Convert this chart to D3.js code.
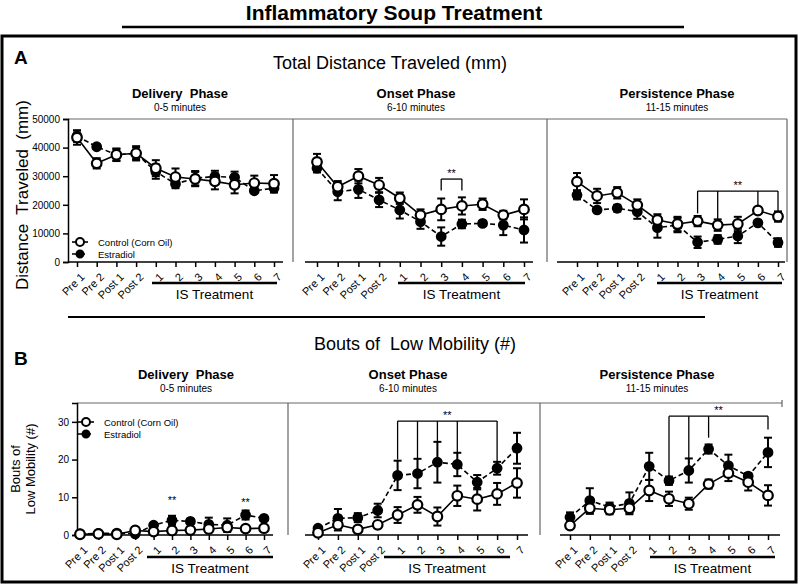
<!DOCTYPE html>
<html>
<head>
<meta charset="utf-8">
<script src="https://cdn.jsdelivr.net/npm/d3@7"></script>
<style>
  body { margin: 0; background: #fff; }
  text { font-family: "Liberation Sans", Arial, sans-serif; fill: #000; }
</style>
</head>
<body>
<svg id="chart" width="800" height="585"></svg>
<script>
const categories = ["Pre 1", "Pre 2", "Post 1", "Post 2", "1", "2", "3", "4", "5", "6", "7"];
const phaseNames = ["Delivery  Phase", "Onset Phase", "Persistence Phase"];
const phaseTimes = ["0-5 minutes", "6-10 minutes", "11-15 minutes"];
const seriesNames = ["Control (Corn Oil)", "Estradiol"];

const distTicks = [0, 10000, 20000, 30000, 40000, 50000];
const boutTicks = [0, 10, 20, 30];

// A: total distance traveled (mm), mean and SEM
const distDeliveryControl = [43500, 34500, 37500, 38000, 32800, 29700, 29000, 28200, 27000, 27600, 27400];
const distDeliveryControlErr = [2500, 1800, 2200, 2500, 2800, 3000, 2500, 2800, 3000, 2600, 3000];
const distDeliveryEstradiol = [44000, 40300, 37500, 38000, 31600, 27300, 29300, 29900, 29600, 24900, 25800];
const distDeliveryEstradiolErr = [2000, 800, 2000, 2000, 2500, 1500, 2500, 2000, 2000, 800, 1500];

const distOnsetControl = [35000, 26300, 30000, 26900, 22300, 16400, 18400, 19600, 20200, 16400, 18400];
const distOnsetControlErr = [2800, 2000, 2500, 2500, 2000, 2000, 3800, 3000, 2000, 1500, 3500];
const distOnsetEstradiol = [32800, 24600, 25400, 21700, 18200, 14100, 8900, 13300, 13500, 12900, 11200];
const distOnsetEstradiolErr = [1500, 3000, 3000, 2500, 3000, 2500, 3200, 1500, 800, 3500, 4400];

const distPersistControl = [28100, 23100, 24200, 19900, 14700, 13300, 14300, 12900, 13300, 18000, 15900];
const distPersistControlErr = [3000, 2500, 2000, 2000, 2000, 2500, 1800, 2000, 2500, 1000, 1800];
const distPersistEstradiol = [23400, 18200, 18800, 17600, 12000, 12900, 6900, 7900, 9100, 13700, 6800];
const distPersistEstradiolErr = [1500, 800, 1200, 2500, 3500, 2500, 2000, 1500, 2500, 800, 1500];

// B: bouts of low mobility (#), mean and SEM
const boutDeliveryControl = [0.2, 0.3, 0.2, 1.2, 0.9, 1.2, 1.3, 1.6, 2.0, 1.7, 1.8];
const boutDeliveryControlErr = [0.2, 0.2, 0.2, 0.5, 0.5, 0.5, 0.5, 0.6, 0.8, 0.5, 0.5];
const boutDeliveryEstradiol = [0.3, 0.4, 0.5, 0.3, 2.6, 3.9, 3.6, 2.8, 2.6, 5.3, 4.4];
const boutDeliveryEstradiolErr = [0.2, 0.3, 0.5, 0.3, 0.5, 1.2, 0.6, 1.8, 1.8, 1.2, 0.6];

const boutOnsetControl = [0.6, 2.7, 1.5, 2.7, 5.3, 8.0, 4.9, 10.4, 9.5, 10.9, 13.8];
const boutOnsetControlErr = [0.4, 1.5, 0.8, 0.8, 2.1, 2.1, 2.4, 2.7, 3.0, 2.9, 3.9];
const boutOnsetEstradiol = [1.8, 4.4, 4.6, 6.5, 15.8, 16.3, 19.3, 18.7, 14.0, 17.7, 23.0];
const boutOnsetEstradiolErr = [0.5, 2.5, 1.2, 1.8, 3.9, 3.9, 5.4, 3.1, 1.9, 1.7, 4.1];

const boutPersistControl = [2.5, 7.1, 6.7, 7.1, 11.8, 9.6, 8.3, 13.5, 16.4, 14.0, 10.5];
const boutPersistControlErr = [0.8, 1.5, 1.2, 1.2, 2.8, 1.9, 1.6, 1.2, 2.1, 2.2, 2.7];
const boutPersistEstradiol = [4.7, 9.1, 7.4, 8.4, 18.2, 14.4, 17.1, 22.8, 18.4, 15.6, 21.9];
const boutPersistEstradiolErr = [1.3, 3.3, 1.2, 2.9, 3.6, 1.1, 3.2, 1.2, 2.9, 0.8, 3.9];

// significance brackets: top value and the legs (category, lower end)
const distOnsetBracket = {top: 29000, legs: [["3", 25000], ["4", 25000]]};
const distPersistBracket = {top: 24800, legs: [["3", 17000], ["4", 15000], ["6", 19200], ["7", 17600]]};
const boutOnsetBracket = {top: 30.2, legs: [["1", 20], ["2", 20.3], ["3", 24.9], ["4", 22], ["6", 19.5]]};
const boutPersistBracket = {top: 31.5, legs: [["2", 15.5], ["3", 19.1], ["4", 25.8], ["7", 28]]};
const boutDeliveryStars = [["2", 8.9], ["6", 8.5]];

const svg = d3.select('#chart');

// outer frame and title
svg.append('rect')
  .attr('x', 2).attr('y', 36).attr('width', 794).attr('height', 546)
  .attr('fill', 'none').attr('stroke', '#000').attr('stroke-width', 3);

svg.append('text')
  .attr('x', 394).attr('y', 20)
  .attr('text-anchor', 'middle')
  .style('font-weight', 'bold').style('font-size', '21px')
  .text('Inflammatory Soup Treatment');

svg.append('line')
  .attr('x1', 122).attr('x2', 684).attr('y1', 27).attr('y2', 27)
  .attr('stroke', '#000').attr('stroke-width', 2.5);

// divider between A and B
svg.append('line')
  .attr('x1', 68).attr('x2', 705).attr('y1', 317).attr('y2', 317)
  .attr('stroke', '#000').attr('stroke-width', 2);

const rows = [
  {
    letter: 'A', letterY: 64, title: 'Total Distance Traveled (mm)', titleX: 390, titleY: 69,
    phaseY: 98, timeY: 111, phaseX: [180, 416, 677],
    top: 119, bottom: 262, max: 50000, ticks: distTicks, yAxisX: 68,
    seps: [293, 547, 787], fullRight: true, barY: 283, textY: 299,
    panels: [
      {x0: 77, x1: 274, axis: [68, 283], bar: [152, 277],
       c: distDeliveryControl, ce: distDeliveryControlErr, e: distDeliveryEstradiol, ee: distDeliveryEstradiolErr},
      {x0: 317, x1: 524, axis: [305, 533], bar: [398, 525], bracket: distOnsetBracket,
       c: distOnsetControl, ce: distOnsetControlErr, e: distOnsetEstradiol, ee: distOnsetEstradiolErr},
      {x0: 577, x1: 778, axis: [557, 785], bar: [657, 782], bracket: distPersistBracket,
       c: distPersistControl, ce: distPersistControlErr, e: distPersistEstradiol, ee: distPersistEstradiolErr}
    ],
    legend: {x: 80, y: 242}
  },
  {
    letter: 'B', letterY: 365, title: 'Bouts of  Low Mobility (#)', titleX: 415, titleY: 350,
    phaseY: 379, timeY: 392, phaseX: [186, 408, 657],
    top: 403, bottom: 535, max: 35, ticks: boutTicks, yAxisX: 77,
    seps: [288, 540, 782], fullRight: false, barY: 557, textY: 573,
    panels: [
      {x0: 80, x1: 264, axis: [77, 273], bar: [147, 273], stars: boutDeliveryStars,
       c: boutDeliveryControl, ce: boutDeliveryControlErr, e: boutDeliveryEstradiol, ee: boutDeliveryEstradiolErr},
      {x0: 318, x1: 517, axis: [305, 528], bar: [384, 510], bracket: boutOnsetBracket,
       c: boutOnsetControl, ce: boutOnsetControlErr, e: boutOnsetEstradiol, ee: boutOnsetEstradiolErr},
      {x0: 570, x1: 768, axis: [560, 780], bar: [650, 775], bracket: boutPersistBracket,
       c: boutPersistControl, ce: boutPersistControlErr, e: boutPersistEstradiol, ee: boutPersistEstradiolErr}
    ],
    legend: {x: 86, y: 422}
  }
];

rows.forEach(row => {
  const y = d3.scaleLinear().domain([0, row.max]).range([row.bottom, row.top]);

  svg.append('text')
    .attr('x', 14).attr('y', row.letterY)
    .style('font-weight', 'bold').style('font-size', '19px')
    .text(row.letter);

  svg.append('text')
    .attr('x', row.titleX).attr('y', row.titleY)
    .attr('text-anchor', 'middle').style('font-size', '18px')
    .style('white-space', 'pre')
    .text(row.title);

  phaseNames.forEach((p, i) => {
    svg.append('text')
      .attr('x', row.phaseX[i]).attr('y', row.phaseY)
      .attr('text-anchor', 'middle')
      .style('font-weight', 'bold').style('font-size', '13px')
      .style('white-space', 'pre')
      .text(p);
    svg.append('text')
      .attr('x', row.phaseX[i]).attr('y', row.timeY)
      .attr('text-anchor', 'middle').style('font-size', '10px')
      .text(phaseTimes[i]);
  });

  // grey frame of the plotting area
  svg.append('line')
    .attr('x1', row.yAxisX).attr('x2', row.seps[2]).attr('y1', row.top).attr('y2', row.top)
    .attr('stroke', '#666').attr('stroke-width', 1.2);
  row.seps.forEach((sx, i) => {
    const short = (i === 2 && !row.fullRight);
    svg.append('line')
      .attr('x1', sx).attr('x2', sx)
      .attr('y1', short ? row.top - 3 : row.top)
      .attr('y2', short ? row.top + 4 : row.bottom)
      .attr('stroke', '#666').attr('stroke-width', 1.2);
  });

  // y axis
  const yAxis = d3.axisLeft(y).tickValues(row.ticks).tickSize(5).tickFormat(d3.format('d'));
  const ya = svg.append('g')
    .attr('transform', `translate(${row.yAxisX},0)`)
    .call(yAxis);
  ya.select('.domain').attr('stroke-width', 1.5);
  ya.selectAll('.tick line').attr('stroke-width', 1.5);
  ya.selectAll('.tick text').style('font-size', '10px').style('font-family', '"Liberation Sans", Arial, sans-serif');

  row.panels.forEach(p => {
    const x = d3.scalePoint().domain(categories).range([p.x0, p.x1]);

    const xAxis = d3.axisBottom(x).tickSize(5).tickSizeOuter(0);
    const xa = svg.append('g')
      .attr('transform', `translate(0,${row.bottom})`)
      .call(xAxis);
    xa.select('.domain').remove();
    xa.selectAll('.tick line').attr('stroke-width', 1.5);
    xa.selectAll('.tick text')
      .style('font-size', '11px').style('font-family', '"Liberation Sans", Arial, sans-serif')
      .attr('fill', '#000')
      .attr('text-anchor', 'end')
      .attr('x', 0).attr('y', 0)
      .attr('dx', 0).attr('dy', '0.35em')
      .attr('transform', 'translate(5,13) rotate(-45)');
    svg.append('line')
      .attr('x1', p.axis[0]).attr('x2', p.axis[1])
      .attr('y1', row.bottom).attr('y2', row.bottom)
      .attr('stroke', '#000').attr('stroke-width', 1.5);

    // IS Treatment bar
    svg.append('line')
      .attr('x1', p.bar[0]).attr('x2', p.bar[1]).attr('y1', row.barY).attr('y2', row.barY)
      .attr('stroke', '#000').attr('stroke-width', 2.5);
    svg.append('text')
      .attr('x', (p.bar[0] + p.bar[1]) / 2).attr('y', row.textY)
      .attr('text-anchor', 'middle').style('font-size', '13.5px')
      .text('IS Treatment');

    const series = [
      {v: p.e, err: p.ee, dash: '5,3', fill: '#000', r: 4.3},
      {v: p.c, err: p.ce, dash: null, fill: '#fff', r: 4.8}
    ];
    const line = d3.line().x((d, i) => x(categories[i])).y(d => y(d));

    series.forEach(s => {
      svg.append('path')
        .datum(s.v)
        .attr('d', line)
        .attr('fill', 'none').attr('stroke', '#000').attr('stroke-width', 1.6)
        .attr('stroke-dasharray', s.dash);
    });
    series.forEach(s => {
      const eb = svg.append('g').selectAll('g').data(s.v).join('g');
      eb.append('line')
        .attr('x1', (d, i) => x(categories[i])).attr('x2', (d, i) => x(categories[i]))
        .attr('y1', (d, i) => y(Math.max(0, d - s.err[i]))).attr('y2', (d, i) => y(d + s.err[i]))
        .attr('stroke', '#000').attr('stroke-width', 2);
      [-1, 1].forEach(sign => {
        eb.append('line')
          .attr('x1', (d, i) => x(categories[i]) - 4).attr('x2', (d, i) => x(categories[i]) + 4)
          .attr('y1', (d, i) => y(Math.max(0, d + sign * s.err[i])))
          .attr('y2', (d, i) => y(Math.max(0, d + sign * s.err[i])))
          .attr('stroke', '#000').attr('stroke-width', 2);
      });
    });
    series.forEach(s => {
      svg.append('g').selectAll('circle').data(s.v).join('circle')
        .attr('cx', (d, i) => x(categories[i])).attr('cy', d => y(d))
        .attr('r', s.r)
        .attr('fill', s.fill).attr('stroke', '#000').attr('stroke-width', 2.2);
    });

    if (p.bracket) {
      const b = p.bracket;
      const xs = b.legs.map(l => x(l[0]));
      svg.append('line')
        .attr('x1', d3.min(xs)).attr('x2', d3.max(xs))
        .attr('y1', y(b.top)).attr('y2', y(b.top))
        .attr('stroke', '#000').attr('stroke-width', 1.3);
      b.legs.forEach(l => {
        svg.append('line')
          .attr('x1', x(l[0])).attr('x2', x(l[0]))
          .attr('y1', y(b.top)).attr('y2', y(l[1]))
          .attr('stroke', '#000').attr('stroke-width', 1.3);
      });
      svg.append('text')
        .attr('x', (d3.min(xs) + d3.max(xs)) / 2).attr('y', y(b.top) - 2)
        .attr('text-anchor', 'middle').style('font-size', '11px')
        .text('**');
    }
    if (p.stars) {
      p.stars.forEach(st => {
        svg.append('text')
          .attr('x', x(st[0])).attr('y', y(st[1]) + 3)
          .attr('text-anchor', 'middle').style('font-size', '11px')
          .text('**');
      });
    }
  });

  // legend
  const lg = row.legend;
  seriesNames.forEach((name, i) => {
    const ly = lg.y + i * 12;
    svg.append('line')
      .attr('x1', lg.x - 8).attr('x2', lg.x + 8).attr('y1', ly).attr('y2', ly)
      .attr('stroke', '#000').attr('stroke-width', 1.6)
      .attr('stroke-dasharray', i === 1 ? '5,3' : null);
    svg.append('circle')
      .attr('cx', lg.x).attr('cy', ly).attr('r', i === 1 ? 3.5 : 4)
      .attr('fill', i === 1 ? '#000' : '#fff').attr('stroke', '#000').attr('stroke-width', 2);
    svg.append('text')
      .attr('x', lg.x + 18).attr('y', ly + 3.5)
      .style('font-size', '9.5px')
      .text(name);
  });
});

// y axis titles
svg.append('text')
  .attr('transform', 'translate(28,195) rotate(-90)')
  .attr('text-anchor', 'middle').style('font-size', '17px').style('white-space', 'pre')
  .text('Distance  Traveled  (mm)');

svg.append('text')
  .attr('transform', 'translate(20,469) rotate(-90)')
  .attr('text-anchor', 'middle').style('font-size', '13px')
  .text('Bouts of');
svg.append('text')
  .attr('transform', 'translate(35,469) rotate(-90)')
  .attr('text-anchor', 'middle').style('font-size', '13px')
  .text('Low Mobility (#)');
</script>
</body>
</html>
